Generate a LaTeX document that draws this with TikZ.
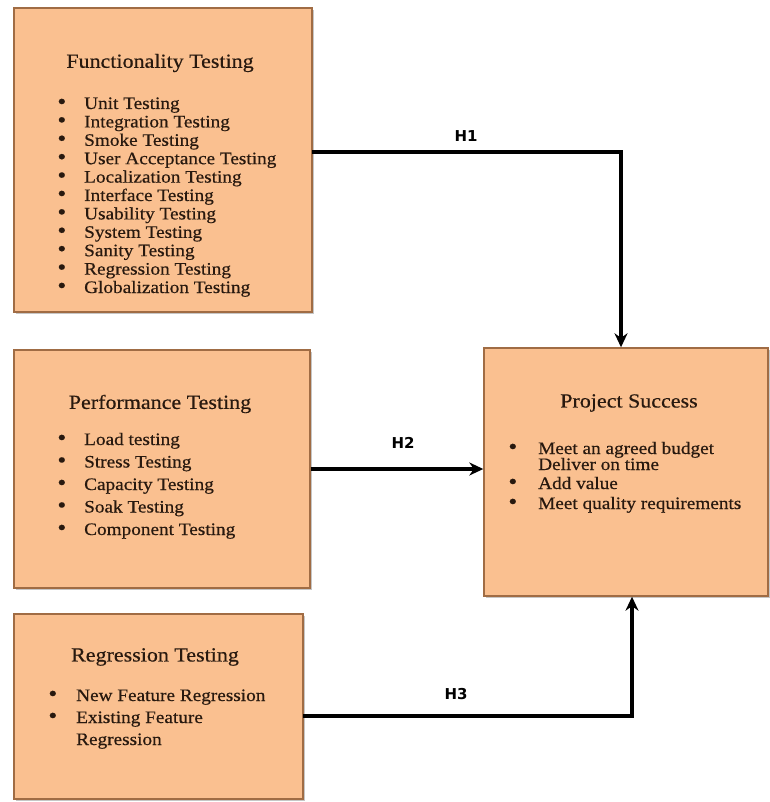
\documentclass[tikz,border=0pt]{standalone}
\usepackage{fontspec}
\setmainfont{Liberation Serif}[FakeStretch=1.1,FakeBold=0.5]
\newfontfamily\hfont{DejaVu Sans}
\usetikzlibrary{arrows.meta,shadows}
\definecolor{peach}{RGB}{250,192,144}
\definecolor{edge}{RGB}{160,108,68}
\definecolor{ink}{RGB}{40,25,15}
\newcommand{\itm}[1][18pt]{\llap{\scalebox{1.3}{\textbullet}\hspace{#1}}}
\begin{document}
\begin{tikzpicture}
  [x=1pt,y=-1pt,
   box/.style={rectangle,fill=peach,draw=edge,line width=1.4pt,
     drop shadow={opacity=.45,shadow xshift=2pt,shadow yshift=-2pt}},
   title/.style={font=\fontsize{20}{24}\selectfont,text=ink},
   item/.style={anchor=west,inner sep=0pt,text height=11pt,text depth=3pt,
     font=\fontsize{17.5}{20}\selectfont,text=ink},
   hlab/.style={font=\hfont\bfseries\fontsize{15}{17}\selectfont},
   arr/.style={line width=3.2pt,-{Stealth[length=14pt,width=13pt]}}]
  \useasboundingbox (0,0) rectangle (769,802);
  % boxes
  \node[box,minimum width=298pt,minimum height=304pt] (func) at (163,160) {};
  \node[box,minimum width=296pt,minimum height=238pt] (perf) at (162,469) {};
  \node[box,minimum width=289pt,minimum height=185pt] (reg) at (158.5,706.5) {};
  \node[box,minimum width=284pt,minimum height=248pt] (succ) at (626,472) {};
  % titles
  \node[title] (funct) at (160,63) {Functionality Testing};
  \node[title] (perft) at (160,404) {Performance Testing};
  \node[title] (regt) at (155,657) {Regression Testing};
  \node[title] (succt) at (629,403) {Project Success};
  % lists
  \foreach \txt [count=\i] in {Unit Testing,Integration Testing,Smoke Testing,
      User Acceptance Testing,Localization Testing,Interface Testing,
      Usability Testing,System Testing,Sanity Testing,Regression Testing,
      Globalization Testing}
    \node[item] (fun\i) at (84,{86.6+18.4*\i}) {\itm\txt};
  \foreach \txt [count=\i] in {Load testing,Stress Testing,Capacity Testing,
      Soak Testing,Component Testing}
    \node[item] (per\i) at (84,{418.5+22.5*\i}) {\itm\txt};
  \node[item] (reg1) at (76,697) {\itm[19pt]New Feature Regression};
  \node[item] (reg2) at (76,719) {\itm[19pt]Existing Feature};
  \node[item] (reg3) at (76,741) {Regression};
  \node[item] (suc1) at (538,450) {\itm[21pt]Meet an agreed budget};
  \node[item] (suc2) at (538,466) {Deliver on time};
  \node[item] (suc3) at (538,485) {\itm[21pt]Add value};
  \node[item] (suc4) at (538,505) {\itm[21pt]Meet quality requirements};
  % connectors
  \coordinate (h1s) at (312,152);
  \coordinate (h3s) at (303,716);
  \draw[arr] (h1s) -| ([xshift=-5pt]succ.north);
  \draw[arr] (perf.east) -- (perf.east -| succ.west);
  \draw[arr] (h3s) -| ([xshift=6pt]succ.south);
  \node[hlab] (h1) at (466,136) {H1};
  \node[hlab] (h2) at (403,443) {H2};
  \node[hlab] (h3) at (456,694) {H3};
\end{tikzpicture}
\end{document}
